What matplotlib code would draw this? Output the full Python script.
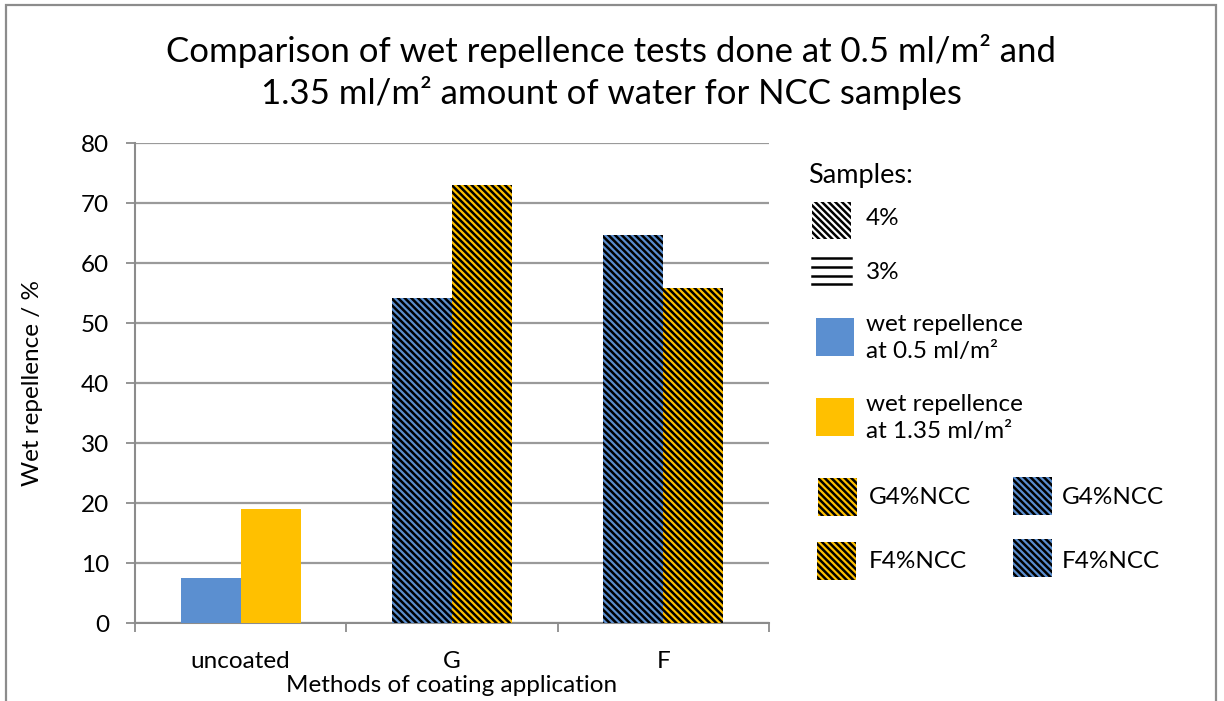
import numpy as np
import matplotlib
matplotlib.use("Agg")
import matplotlib.pyplot as plt
from matplotlib.patches import Rectangle
from matplotlib.lines import Line2D

plt.rcParams['font.family'] = ['Lato', 'DejaVu Sans']
plt.rcParams['hatch.linewidth'] = 1.8

## data
methods = ['uncoated', 'G', 'F']
wet_05 = [7.5, 54.2, 64.7]     # wet repellence at 0.5 ml/m2
wet_135 = [19.0, 73.0, 55.8]   # wet repellence at 1.35 ml/m2
hatched = [False, True, True]  # 4% NCC coated samples
blue = '#5b8fd0'
gold = '#ffc000'
HATCH = '\\\\\\\\\\'
W, H = 1224, 701

fig = plt.figure(figsize=(W / 100, H / 100), dpi=100)
ax = fig.add_axes([135 / W, 1 - 623 / H, (769 - 135) / W, (623 - 143) / H])

x = np.arange(len(methods))
bw = 0.284
for i in range(len(methods)):
    h = HATCH if hatched[i] else None
    ax.bar(x[i] - bw / 2, wet_05[i], bw, color=blue, hatch=h, edgecolor='black', linewidth=0, zorder=3)
    ax.bar(x[i] + bw / 2, wet_135[i], bw, color=gold, hatch=h, edgecolor='black', linewidth=0, zorder=3)

ax.set_xlim(-0.5, 2.5)
ax.set_ylim(0, 80)
ax.set_yticks(range(0, 81, 10))
ax.set_xticks(x)
ax.set_xticklabels(methods)
ax.set_xticks([-0.5, 0.5, 1.5, 2.5], minor=True)
ax.tick_params(axis='x', which='major', length=0, labelsize=17.5, pad=20)
ax.tick_params(axis='x', which='minor', length=6.5, color='#8c8c8c', width=1.3)
ax.tick_params(axis='y', length=6.5, color='#8c8c8c', width=1.3, labelsize=17.5, pad=12)
ax.grid(axis='y', color='#9a9a9a', linewidth=1.6, zorder=0)
for s in ['top', 'right']:
    ax.spines[s].set_visible(False)
for s in ['left', 'bottom']:
    ax.spines[s].set_color('#8c8c8c')
    ax.spines[s].set_linewidth(1.5)
ax.set_xlabel('Methods of coating application', fontsize=17.5, va='center')
ax.xaxis.set_label_coords(0.5, -(686 - 623) / (623 - 143))
ax.set_ylabel('Wet repellence / %', fontsize=17.5, va='center')
ax.yaxis.set_label_coords(-(135 - 33) / (769 - 135), 0.5)

fig.text(611 / W, 1 - 72 / H,
         'Comparison of wet repellence tests done at 0.5 ml/m\u00b2 and\n1.35 ml/m\u00b2 amount of water for NCC samples',
         ha='center', va='center', fontsize=25, linespacing=1.3)


def px(xp, yp):
    return (xp / W, 1 - yp / H)


def box(x0, y0, x1, y1, fc, hatch=None):
    r = Rectangle(px(x0, y1), (x1 - x0) / W, (y1 - y0) / H, transform=fig.transFigure,
                  facecolor=fc, hatch=hatch, edgecolor='black', linewidth=0)
    fig.add_artist(r)


def label(xp, yp, s, size=17.5):
    fig.text(*px(xp, yp), s, fontsize=size, va='center', ha='left', linespacing=1.4)


# hand-built legend
label(808, 175, 'Samples:', 19.5)
box(812, 202, 851, 239, 'white', HATCH)
label(866, 219, '4%')
for yy in [258, 267, 276, 284]:
    fig.add_artist(Line2D([812 / W, 851 / W], [1 - yy / H] * 2, color='black', lw=1.8,
                          transform=fig.transFigure))
label(866, 273, '3%')
box(816, 318, 854, 356, blue)
label(866, 338, 'wet repellence\nat 0.5 ml/m\u00b2')
box(816, 398, 854, 436, gold)
label(866, 418, 'wet repellence\nat 1.35 ml/m\u00b2')
box(818, 478, 857, 516, gold, HATCH)
label(869, 497, 'G4%NCC')
box(1013, 477, 1052, 515, blue, HATCH)
label(1062, 497, 'G4%NCC')
box(817, 542, 856, 580, gold, HATCH)
label(869, 561, 'F4%NCC')
box(1013, 539, 1052, 577, blue, HATCH)
label(1062, 561, 'F4%NCC')

# outer chart frame
fig.add_artist(Rectangle((6 / W, -0.1), (1216 - 6) / W, 1.1 - 5 / H, transform=fig.transFigure,
                         fill=False, edgecolor='#8c8c8c', linewidth=1.6))

fig.savefig('out.png', dpi=100)
